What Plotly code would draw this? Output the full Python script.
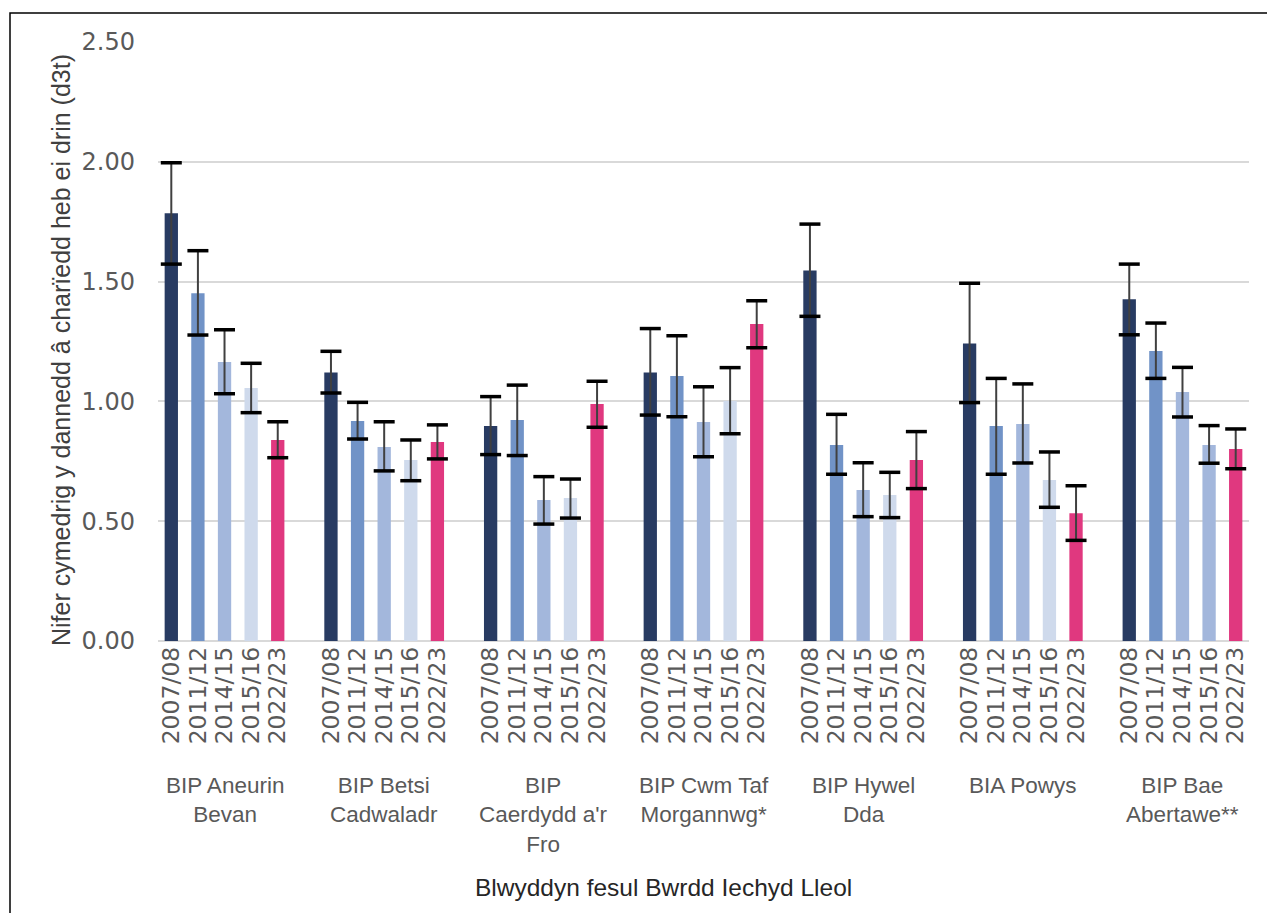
import numpy as np
import plotly.graph_objects as go

# ---------------- data ----------------
years = ["2007/08", "2011/12", "2014/15", "2015/16", "2022/23"]
boards = ["BIP Aneurin<br>Bevan", "BIP Betsi<br>Cadwaladr", "BIP<br>Caerdydd a'r<br>Fro",
          "BIP Cwm Taf<br>Morgannwg*", "BIP Hywel<br>Dda", "BIA Powys", "BIP Bae<br>Abertawe**"]

mean_2007 = [1.785, 1.121, 0.897, 1.121, 1.546, 1.242, 1.426]
upper_2007 = [1.996, 1.209, 1.020, 1.304, 1.740, 1.493, 1.573]
lower_2007 = [1.573, 1.035, 0.778, 0.943, 1.355, 0.995, 1.278]

mean_2011 = [1.451, 0.918, 0.922, 1.106, 0.818, 0.897, 1.210]
upper_2011 = [1.629, 0.996, 1.068, 1.274, 0.946, 1.096, 1.327]
lower_2011 = [1.277, 0.843, 0.774, 0.936, 0.696, 0.696, 1.096]

mean_2014 = [1.164, 0.810, 0.588, 0.914, 0.630, 0.906, 1.039]
upper_2014 = [1.299, 0.915, 0.686, 1.061, 0.744, 1.073, 1.142]
lower_2014 = [1.032, 0.710, 0.488, 0.769, 0.519, 0.743, 0.935]

mean_2015 = [1.056, 0.755, 0.597, 1.002, 0.609, 0.672, 0.818]
upper_2015 = [1.159, 0.839, 0.676, 1.141, 0.704, 0.789, 0.899]
lower_2015 = [0.953, 0.669, 0.513, 0.865, 0.515, 0.558, 0.742]

mean_2022 = [0.839, 0.831, 0.989, 1.323, 0.755, 0.533, 0.801]
upper_2022 = [0.915, 0.902, 1.084, 1.420, 0.874, 0.648, 0.885]
lower_2022 = [0.765, 0.760, 0.892, 1.224, 0.636, 0.420, 0.719]

y_ticks = [0, 0.5, 1.0, 1.5, 2.0, 2.5]
y_title = "Nifer cymedrig y dannedd â charïedd heb ei drin (d3t)"
x_title = "Blwyddyn fesul Bwrdd Iechyd Lleol"

series = [
    (mean_2007, upper_2007, lower_2007),
    (mean_2011, upper_2011, lower_2011),
    (mean_2014, upper_2014, lower_2014),
    (mean_2015, upper_2015, lower_2015),
    (mean_2022, upper_2022, lower_2022),
]

# ---------------- style ----------------
year_colors = ["#283b62", "#7193c7", "#a3b7dc", "#cfdaec", "#e0387f"]
# in the original the 2015/16 bar of the last board uses the 2014/15 shade
point_colors = [[c] * len(boards) for c in year_colors]
point_colors[3][6] = year_colors[2]

GRAY = "#595959"
slot = len(years) + 1  # one empty slot between boards

fig = go.Figure()
n_b = len(boards)
for yi, (m, up, lo) in enumerate(series):
    m = np.array(m); up = np.array(up); lo = np.array(lo)
    xs = np.arange(n_b) * slot + yi
    fig.add_trace(go.Bar(
        x=xs, y=m, width=0.5,
        marker=dict(color=point_colors[yi], line=dict(width=0)),
        error_y=dict(type="data", symmetric=False, array=up - m, arrayminus=m - lo,
                     color="#404040", thickness=2, width=0),
        showlegend=False, name=years[yi], hoverinfo="y",
    ))
    fig.add_trace(go.Scatter(
        x=np.concatenate([xs, xs]), y=np.concatenate([up, lo]), mode="markers",
        marker=dict(symbol="line-ew", size=15, line=dict(color="black", width=3.5)),
        showlegend=False, hoverinfo="skip",
    ))

tickvals = [b * slot + yi for b in range(n_b) for yi in range(len(years))]
ticktext = [years[yi] for b in range(n_b) for yi in range(len(years))]

fig.update_layout(
    width=1267, height=913,
    margin=dict(l=158, r=18, t=42, b=272),
    paper_bgcolor="white", plot_bgcolor="white",
    barmode="overlay",
    showlegend=False,
    font=dict(family="Liberation Sans, Arial, sans-serif", color=GRAY),
    xaxis=dict(
        range=[-0.5, (n_b - 1) * slot + len(years) - 0.5],
        tickmode="array", tickvals=tickvals, ticktext=ticktext,
        tickangle=-90, tickfont=dict(family="DejaVu Sans", size=23.5, color=GRAY),
        showgrid=False, zeroline=False, showline=False, ticks="",
    ),
    yaxis=dict(
        range=[0, 2.5], tickmode="array", tickvals=y_ticks, tickformat=".2f",
        tickfont=dict(family="DejaVu Sans", size=24, color=GRAY),
        showgrid=True, gridcolor="#d9d9d9", gridwidth=1.5,
        zeroline=True, zerolinecolor="#d9d9d9", zerolinewidth=1.5,
        showline=False, ticks="", ticklabelstandoff=22,
    ),
)

# board labels
for b, name in enumerate(boards):
    fig.add_annotation(
        x=b * slot + (len(years) - 1) / 2, y=0, xref="x", yref="paper",
        yanchor="top", xanchor="center", yshift=-130, showarrow=False,
        text=name, align="center",
        font=dict(family="Liberation Sans, Arial", size=22.5, color=GRAY),
    )

# axis titles
fig.add_annotation(
    x=(663 - 158) / 1091, y=(641 - 887) / 599, xref="paper", yref="paper",
    xanchor="center", yanchor="middle", showarrow=False, text=x_title,
    font=dict(family="Liberation Sans, Arial", size=24.5, color="#262626"),
)
fig.add_annotation(
    x=(61 - 158) / 1091, y=(641 - 350) / 599, xref="paper", yref="paper",
    xanchor="center", yanchor="middle", showarrow=False, text=y_title, textangle=-90,
    font=dict(family="Liberation Sans, Arial", size=25, color="#404040"),
)

# chart border (top and left edges visible in the original)
fig.add_shape(type="rect", xref="paper", yref="paper",
              x0=(10 - 158) / 1091, x1=1.3, y0=(641 - 13) / 599, y1=-0.8,
              line=dict(color="black", width=1.5), fillcolor="rgba(0,0,0,0)", layer="above")

fig.write_html("out.html",
               config={"displayModeBar": False},
               post_script="document.body.style.margin='0';document.body.style.overflow='hidden';")
